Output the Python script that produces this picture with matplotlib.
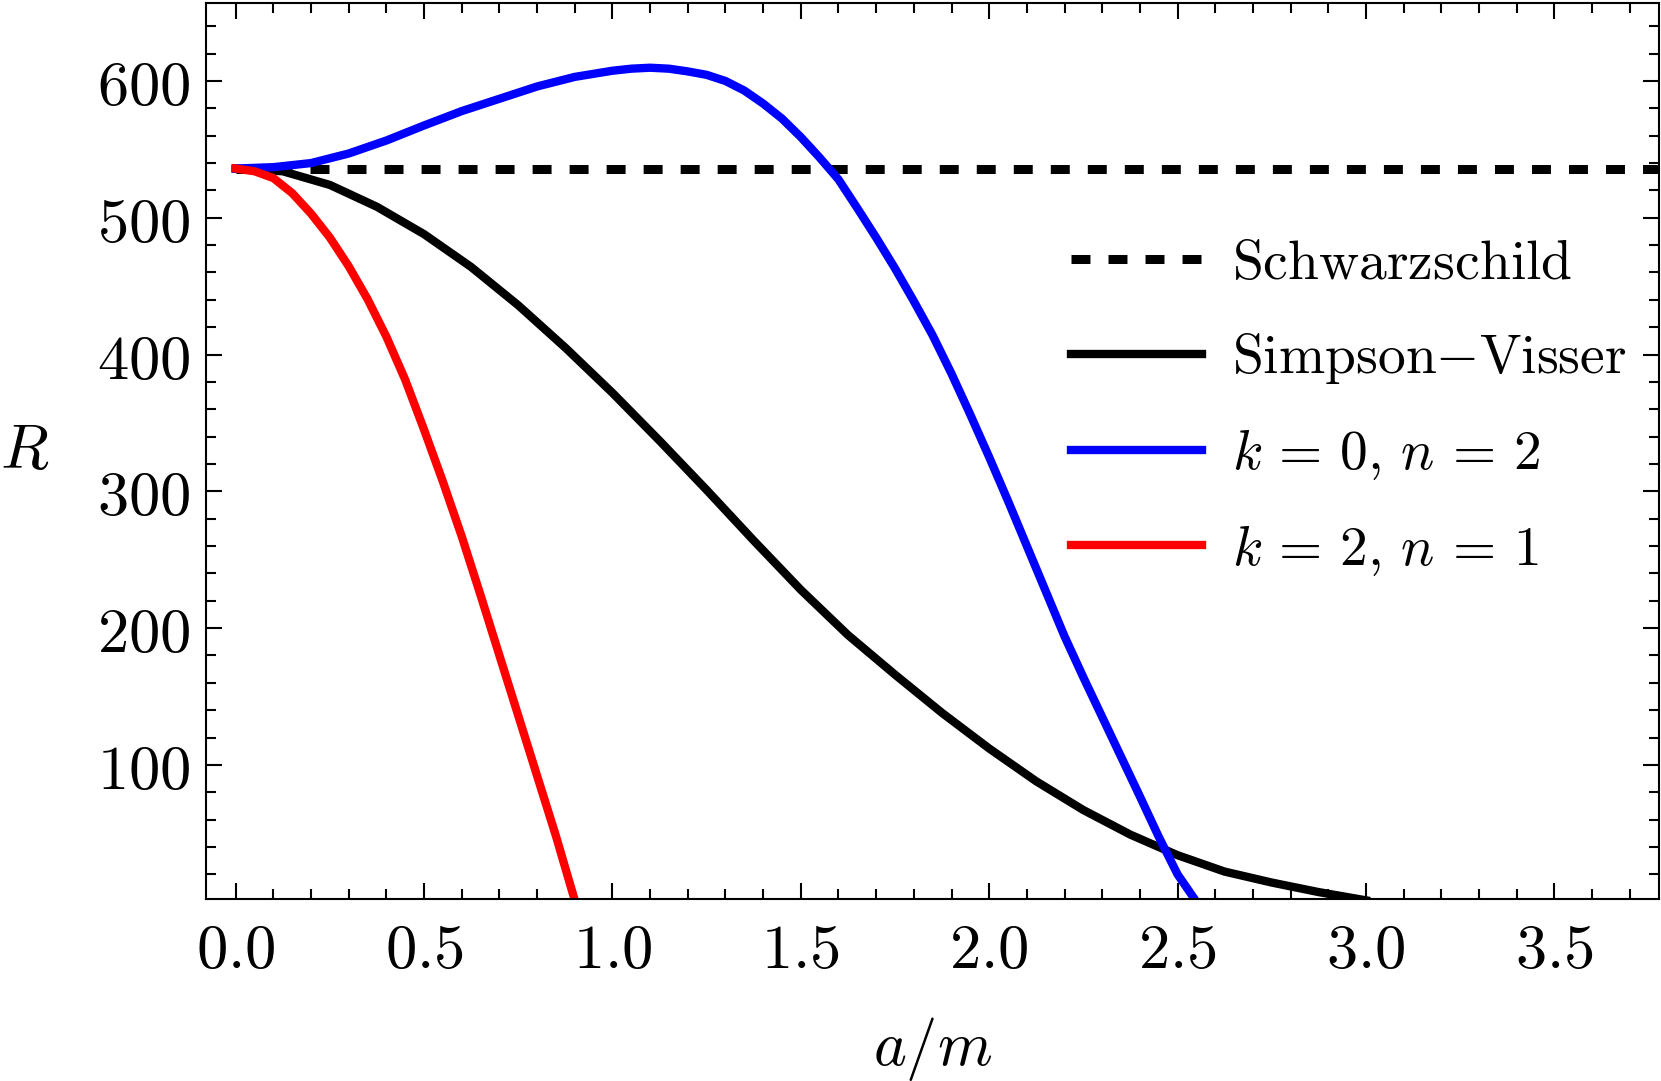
import numpy as np
import matplotlib
matplotlib.use("Agg")
import matplotlib.pyplot as plt
from matplotlib.ticker import MultipleLocator

plt.rcParams['mathtext.fontset'] = 'cm'
plt.rcParams['font.family'] = 'DejaVu Serif'

# values
schwarzschild_R = 536.0

sv_a = [0.0, 0.125, 0.25, 0.375, 0.5, 0.625, 0.75, 0.875, 1.0, 1.125, 1.25, 1.375,
        1.5, 1.625, 1.75, 1.875, 2.0, 2.125, 2.25, 2.375, 2.5, 2.625, 2.75, 2.875, 3.0]
sv_R = [536, 534, 524, 508, 488, 464, 436, 405, 372, 337, 301, 264,
        228, 195, 166, 138, 112, 88, 67, 49, 34, 22, 14, 7, 1]

k0n2_a = [0.0, 0.1, 0.2, 0.3, 0.4, 0.5, 0.6, 0.7, 0.8, 0.9, 1.0, 1.05, 1.1, 1.15,
          1.2, 1.25, 1.3, 1.35, 1.4, 1.45, 1.5, 1.55, 1.6, 1.65, 1.7, 1.75, 1.8,
          1.85, 1.9, 1.95, 2.0, 2.05, 2.1, 2.15, 2.2, 2.25, 2.3, 2.35, 2.4, 2.45,
          2.5, 2.55]
k0n2_R = [536, 537, 540, 547, 556.5, 567.5, 578, 587, 596, 603, 607.5, 609, 609.7, 609,
          607, 604.5, 600, 593, 583.5, 572.5, 559, 544, 528, 507, 485.5, 463, 439,
          414, 386, 356, 325, 293, 260, 227, 194, 164, 135, 106, 77, 47.5,
          20, 0]

k2n1_a = [0.0, 0.05, 0.1, 0.15, 0.2, 0.25, 0.3, 0.35, 0.4, 0.45, 0.5, 0.55, 0.6,
          0.65, 0.7, 0.75, 0.8, 0.85, 0.9]
k2n1_R = [536, 534, 529, 518, 503, 485.5, 464.5, 440.5, 413, 381.5, 345, 307, 267,
          224, 180, 136, 92, 48, 1]

a_line = [0.0, 3.8]

fig = plt.figure(figsize=(16.61, 10.81), dpi=100)
ax = fig.add_axes([0.124, 0.1684, 0.8748, 0.8288])

ax.plot(a_line, [schwarzschild_R, schwarzschild_R], color='black', lw=6.5,
        dashes=(2.1, 2.0), dash_capstyle='butt', label=r'$\mathrm{Schwarzschild}$')
ax.plot(sv_a, sv_R, color='black', lw=6, solid_joinstyle='round',
        label=r'$\mathrm{Simpson{-}Visser}$')
ax.plot(k0n2_a, k0n2_R, color='#0000ff', lw=6, solid_joinstyle='round',
        label=r'$k\,=\,0,\,n\,=\,2$')
ax.plot(k2n1_a, k2n1_R, color='#ff0000', lw=6, solid_joinstyle='round',
        label=r'$k\,=\,2,\,n\,=\,1$')

ax.set_xlim(-0.079, 3.778)
ax.set_ylim(2, 657)

ax.xaxis.set_minor_locator(MultipleLocator(0.1))
ax.yaxis.set_minor_locator(MultipleLocator(20))
xt = [0, 0.5, 1.0, 1.5, 2.0, 2.5, 3.0, 3.5]
yt = [100, 200, 300, 400, 500, 600]
ax.set_xticks(xt)
ax.set_xticklabels([r'$%.1f$' % v for v in xt])
ax.set_yticks(yt)
ax.set_yticklabels([r'$%d$' % v for v in yt])

ax.tick_params(which='both', direction='in', top=True, right=True, width=1.5,
               labelsize=45)
ax.tick_params(which='major', length=11.5)
ax.tick_params(which='minor', length=7)
ax.tick_params(axis='x', pad=15)
ax.tick_params(axis='y', pad=11)
for sp in ax.spines.values():
    sp.set_linewidth(1.5)

ax.set_xlabel(r'$a/m$', fontsize=45, va='center')
ax.xaxis.set_label_coords(0.5, -0.167)
ax.set_ylabel(r'$R$', fontsize=45, rotation=0, va='center', ha='center')
ax.yaxis.set_label_coords(-0.125, 0.5)

leg = ax.legend(loc='upper left', bbox_to_anchor=(0.580, 0.765), frameon=False,
                fontsize=40, handlelength=2.36, handletextpad=0.53,
                labelspacing=0.72, borderaxespad=0)

fig.savefig('out.png', dpi=100)
